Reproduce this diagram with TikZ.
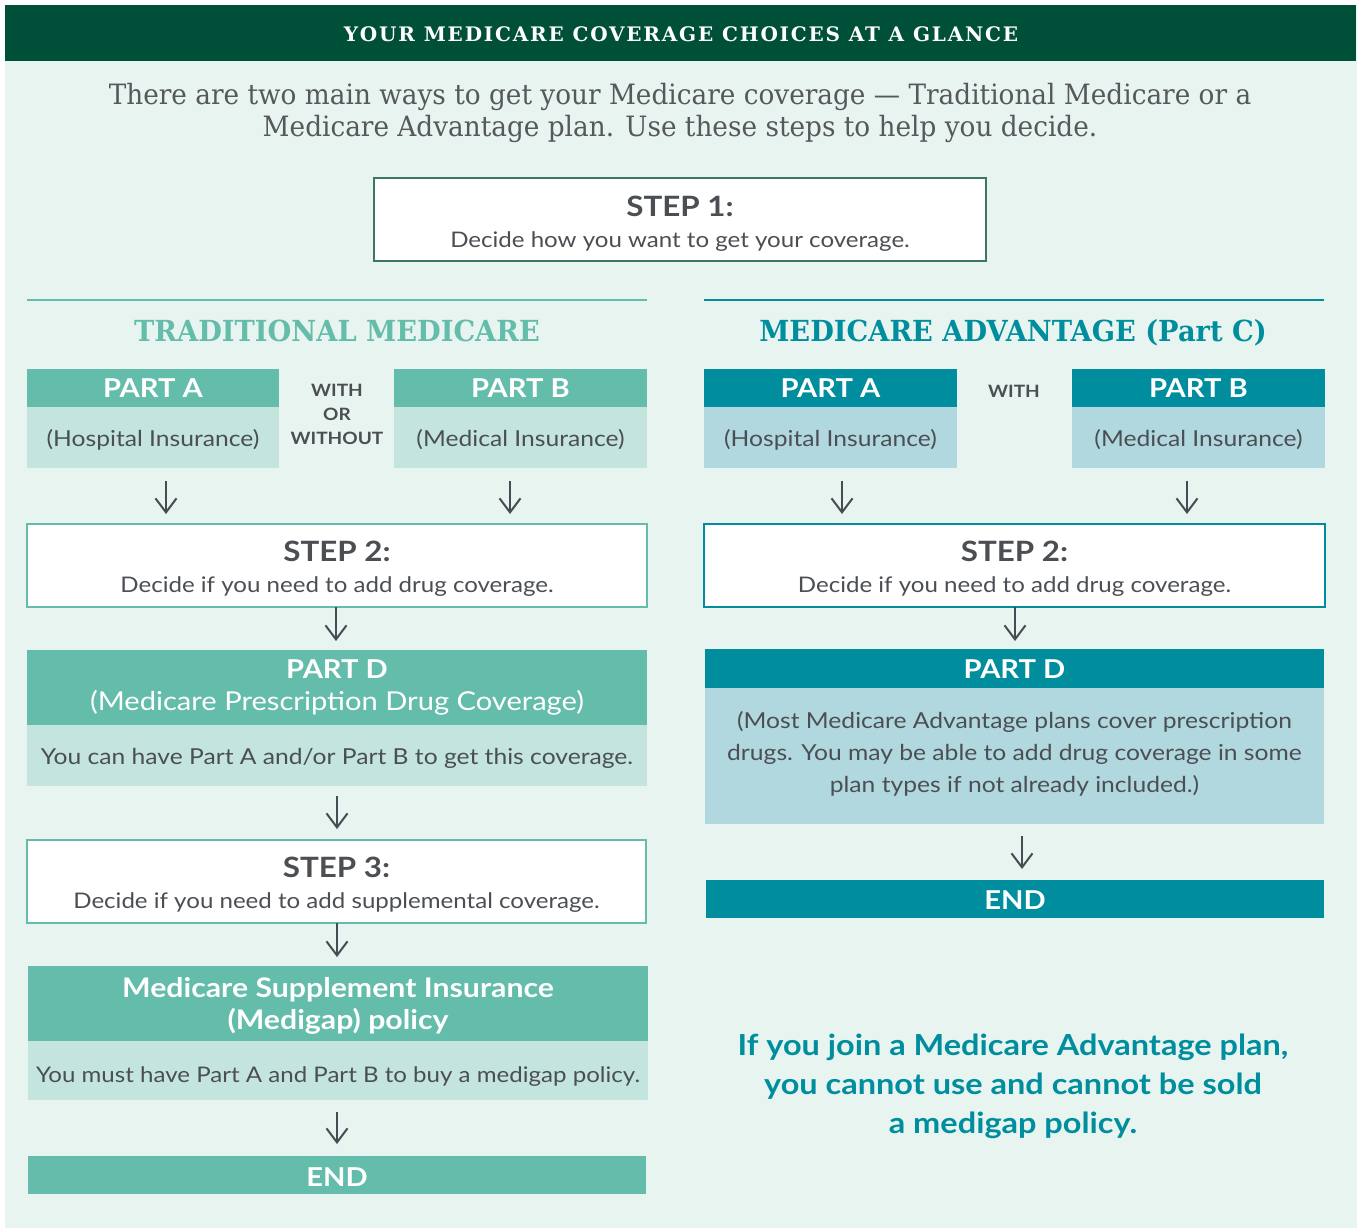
\documentclass[tikz,border=0pt]{standalone}
\usepackage{fontspec}
\setmainfont{Lato}[FakeStretch=1.12]
\newfontfamily\slab{DejaVu Serif}[FakeStretch=0.94]
\newfontfamily\hdrfont{DejaVu Serif}[LetterSpace=9]
\usetikzlibrary{arrows.meta}
\definecolor{hdr}{HTML}{004F39}
\definecolor{bgc}{HTML}{E7F4EF}
\definecolor{tdark}{HTML}{64BCAB}
\definecolor{tlight}{HTML}{C3E5DD}
\definecolor{adark}{HTML}{008E9F}
\definecolor{alight}{HTML}{B1D8DF}
\definecolor{txtgray}{HTML}{4B4F54}
\definecolor{introgray}{HTML}{55595E}
\definecolor{sborder}{HTML}{3B7862}
\definecolor{arrgray}{HTML}{464C54}
\newcommand{\pxsize}[1]{\fontsize{#1}{#1}\selectfont}
\begin{document}
\begin{tikzpicture}[x=1pt,y=-1pt,
  box/.style={rectangle, inner sep=0pt, outer sep=0pt, anchor=center},
  txt/.style={inner sep=0pt, outer sep=0pt, anchor=base, text=txtgray},
  stepbox/.style={box, fill=white, line width=1.5pt},
  steptitle/.style={txt, font=\bfseries\pxsize{28}},
  stepdesc/.style={txt, font=\pxsize{21.5}},
  parthead/.style={txt, text=white, font=\bfseries\pxsize{26}},
  partsub/.style={txt, font=\pxsize{22}},
  joiner/.style={txt, font=\bfseries\pxsize{17}},
  arr/.style={draw=arrgray, line width=2pt, -{Straight Barb[length=14pt,width=21pt]}}]
\useasboundingbox (0,0) rectangle (1357,1228);
\fill[bgc] (5,5) rectangle (1357,1228);
% header
\node[box, fill=hdr, minimum width=1351, minimum height=56] (hdr) at (680.5,33) {};
\node[txt, text=white, font=\hdrfont\bfseries\pxsize{20}] (hdrt) at (681,42) {YOUR MEDICARE COVERAGE CHOICES AT A GLANCE};
\node[txt, text=introgray, font=\slab\pxsize{28}] (intro1) at (680,105) {There are two main ways to get your Medicare coverage — Traditional Medicare or a};
\node[txt, text=introgray, font=\slab\pxsize{28}] (intro2) at (680,137) {Medicare Advantage plan. Use these steps to help you decide.};
% step 1
\node[stepbox, draw=sborder, minimum width=612, minimum height=83] (s1) at (680,219.5) {};
\node[steptitle] (s1t) at (680,216) {STEP 1:};
\node[stepdesc] (s1d) at (680,247) {Decide how you want to get your coverage.};
% rules and titles
\draw[tdark, line width=2pt] (27,300) -- (647,300);
\draw[adark, line width=2pt] (704,300) -- (1324,300);
\node[txt, text=tdark, font=\slab\bfseries\pxsize{29}] (ltitle) at (337,341) {TRADITIONAL MEDICARE};
\node[txt, text=adark, font=\slab\bfseries\pxsize{29}] (rtitle) at (1013,341) {MEDICARE ADVANTAGE (Part C)};
% left parts A / B
\node[box, fill=tdark, minimum width=252, minimum height=38] (lAh) at (153,388) {};
\node[box, fill=tlight, minimum width=252, minimum height=61] (lAl) at (153,437.5) {};
\node[box, fill=tdark, minimum width=253, minimum height=38] (lBh) at (520.5,388) {};
\node[box, fill=tlight, minimum width=253, minimum height=61] (lBl) at (520.5,437.5) {};
\node[parthead] (lAht) at (153,397) {PART A};
\node[partsub] (lAlt) at (153,446) {(Hospital Insurance)};
\node[parthead] (lBht) at (520.5,397) {PART B};
\node[partsub] (lBlt) at (520.5,446) {(Medical Insurance)};
\node[joiner] (lj1) at (337,396) {WITH};
\node[joiner] (lj2) at (337,420) {OR};
\node[joiner] (lj3) at (337,444) {WITHOUT};
% right parts A / B
\node[box, fill=adark, minimum width=253, minimum height=38] (rAh) at (830.5,388) {};
\node[box, fill=alight, minimum width=253, minimum height=61] (rAl) at (830.5,437.5) {};
\node[box, fill=adark, minimum width=253, minimum height=38] (rBh) at (1198.5,388) {};
\node[box, fill=alight, minimum width=253, minimum height=61] (rBl) at (1198.5,437.5) {};
\node[parthead] (rAht) at (830.5,397) {PART A};
\node[partsub] (rAlt) at (830.5,446) {(Hospital Insurance)};
\node[parthead] (rBht) at (1198.5,397) {PART B};
\node[partsub] (rBlt) at (1198.5,446) {(Medical Insurance)};
\node[joiner] (rj1) at (1014,397) {WITH};
% step 2 boxes
\node[stepbox, draw=tdark, minimum width=620, minimum height=83] (lS2) at (337,565.5) {};
\node[steptitle] (lS2t) at (337,561) {STEP 2:};
\node[stepdesc] (lS2d) at (337,592) {Decide if you need to add drug coverage.};
\node[stepbox, draw=adark, minimum width=621, minimum height=83] (rS2) at (1014.5,565.5) {};
\node[steptitle] (rS2t) at (1014.5,561) {STEP 2:};
\node[stepdesc] (rS2d) at (1014.5,592) {Decide if you need to add drug coverage.};
% left part D
\node[box, fill=tdark, minimum width=620, minimum height=75] (lDh) at (337,687.5) {};
\node[box, fill=tlight, minimum width=620, minimum height=61] (lDl) at (337,755.5) {};
\node[parthead] (lDht) at (337,678) {PART D};
\node[txt, text=white, font=\pxsize{26}] (lDht2) at (337,710) {(Medicare Prescription Drug Coverage)};
\node[partsub] (lDlt) at (337,764) {You can have Part A and/or Part B to get this coverage.};
% step 3
\node[stepbox, draw=tdark, minimum width=619, minimum height=83] (lS3) at (336.5,881.5) {};
\node[steptitle] (lS3t) at (336.5,877) {STEP 3:};
\node[stepdesc] (lS3d) at (336.5,908) {Decide if you need to add supplemental coverage.};
% medigap
\node[box, fill=tdark, minimum width=620, minimum height=75] (lMh) at (338,1003.5) {};
\node[box, fill=tlight, minimum width=620, minimum height=59] (lMl) at (338,1070.5) {};
\node[parthead, font=\bfseries\pxsize{27}] (lMht1) at (338,997) {Medicare Supplement Insurance};
\node[parthead, font=\bfseries\pxsize{27}] (lMht2) at (338,1029) {(Medigap) policy};
\node[partsub, font=\pxsize{21.5}] (lMlt) at (338,1082) {You must have Part A and Part B to buy a medigap policy.};
% left end
\node[box, fill=tdark, minimum width=618, minimum height=38] (lEnd) at (337,1175) {};
\node[parthead] (lEndt) at (337,1186) {END};
% right part D
\node[box, fill=adark, minimum width=619, minimum height=39] (rDh) at (1014.5,668.5) {};
\node[box, fill=alight, minimum width=619, minimum height=136] (rDl) at (1014.5,756) {};
\node[parthead] (rDht) at (1014.5,678) {PART D};
\node[partsub] (rDl1) at (1014.5,728) {(Most Medicare Advantage plans cover prescription};
\node[partsub] (rDl2) at (1014.5,760) {drugs. You may be able to add drug coverage in some};
\node[partsub] (rDl3) at (1014.5,792) {plan types if not already included.)};
% right end
\node[box, fill=adark, minimum width=618, minimum height=38] (rEnd) at (1015,899) {};
\node[parthead] (rEndt) at (1015,909) {END};
% note
\node[txt, text=adark, font=\bfseries\pxsize{29}] (note1) at (1013,1055) {If you join a Medicare Advantage plan,};
\node[txt, text=adark, font=\bfseries\pxsize{29}] (note2) at (1013,1094) {you cannot use and cannot be sold};
\node[txt, text=adark, font=\bfseries\pxsize{29}] (note3) at (1013,1133) {a medigap policy.};
% arrow columns
\coordinate (ax1) at (166,0);
\coordinate (ax2) at (510,0);
\coordinate (ax3) at (842,0);
\coordinate (ax4) at (1187,0);
\coordinate (ax5) at (336,0);
\coordinate (ax6) at (1015,0);
\coordinate (ax7) at (337,0);
\coordinate (ax8) at (1022,0);
\draw[arr, shorten <=13pt, shorten >=10pt] (lAl.south -| ax1) -- (lS2.north -| ax1);
\draw[arr, shorten <=13pt, shorten >=10pt] (lBl.south -| ax2) -- (lS2.north -| ax2);
\draw[arr, shorten <=13pt, shorten >=10pt] (rAl.south -| ax3) -- (rS2.north -| ax3);
\draw[arr, shorten <=13pt, shorten >=10pt] (rBl.south -| ax4) -- (rS2.north -| ax4);
\draw[arr, shorten >=9pt] (lS2.south -| ax5) -- (lDh.north -| ax5);
\draw[arr, shorten >=8pt] (rS2.south -| ax6) -- (rDh.north -| ax6);
\draw[arr, shorten <=10pt, shorten >=11pt] (lDl.south -| ax7) -- (lS3.north -| ax7);
\draw[arr, shorten >=9pt] (lS3.south -| ax7) -- (lMh.north -| ax7);
\draw[arr, shorten <=12pt, shorten >=12pt] (lMl.south -| ax7) -- (lEnd.north -| ax7);
\draw[arr, shorten <=12pt, shorten >=11pt] (rDl.south -| ax8) -- (rEnd.north -| ax8);
\end{tikzpicture}
\end{document}
